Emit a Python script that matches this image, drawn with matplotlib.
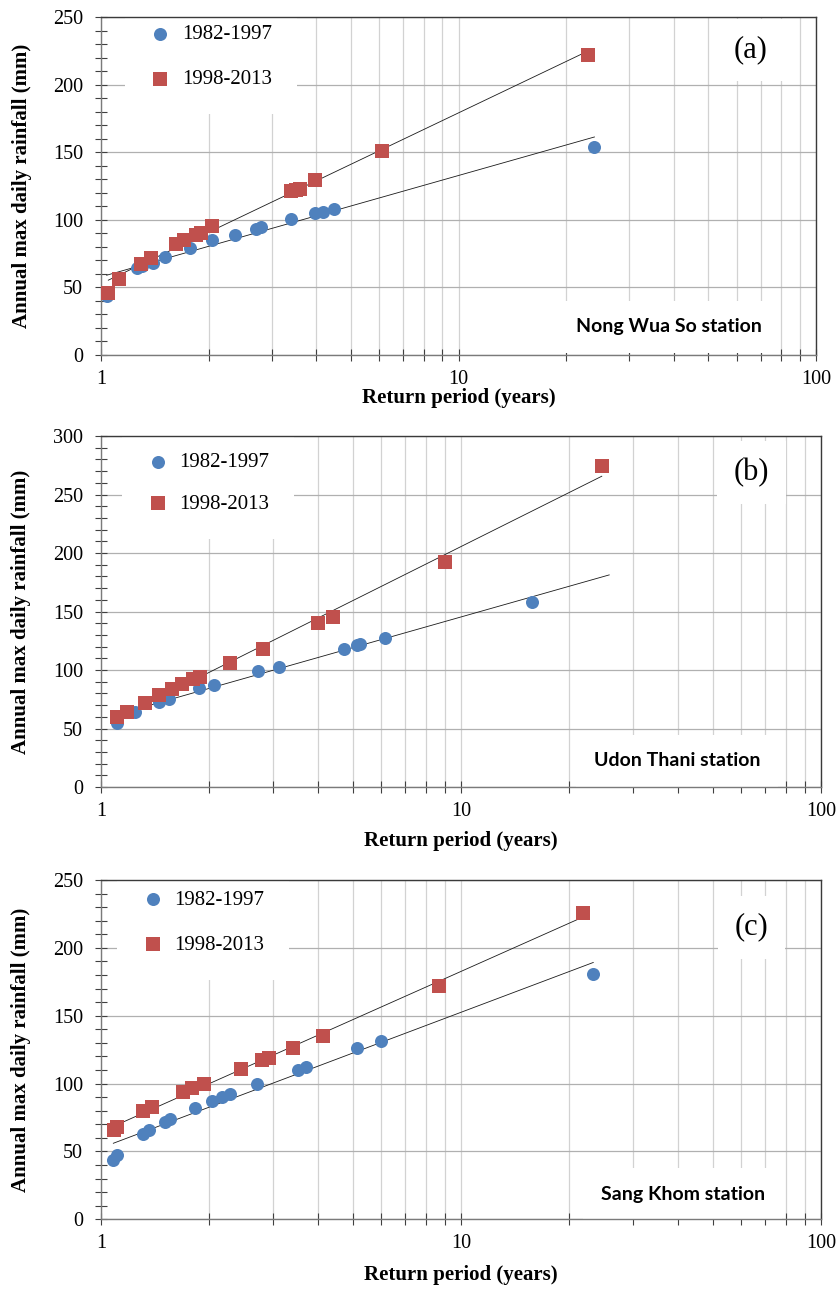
import numpy as np
import matplotlib.pyplot as plt
from matplotlib.ticker import MultipleLocator, FixedLocator, NullFormatter

# return period (years) and annual max daily rainfall (mm)
a_blue_x = [1.037, 1.26, 1.30, 1.40, 1.51, 1.77, 2.05, 2.37, 2.71, 2.81, 3.39, 3.97, 4.17, 4.49, 24.0]
a_blue_y = [44, 64.5, 65.5, 68, 72.5, 79, 85, 89, 93, 95, 100.5, 104.7, 106, 108, 154]
a_red_x = [1.048, 1.124, 1.297, 1.383, 1.622, 1.711, 1.844, 1.904, 2.05, 3.39, 3.50, 3.61, 3.96, 6.12, 23.0]
a_red_y = [45.5, 56, 67.5, 71.5, 82, 85, 88.5, 90, 95.5, 121, 122, 123, 129.5, 151, 222]

b_blue_x = [1.11, 1.243, 1.45, 1.54, 1.872, 2.065, 2.724, 3.115, 4.73, 5.13, 5.25, 6.13, 15.75]
b_blue_y = [55, 64, 72.5, 75.5, 84.5, 87.5, 99, 103, 118, 121, 122, 127, 158]
b_red_x = [1.11, 1.178, 1.325, 1.452, 1.571, 1.675, 1.805, 1.884, 2.282, 2.81, 4.01, 4.42, 9.03, 24.6]
b_red_y = [60, 64.5, 72, 79, 84, 88, 92.5, 94, 106, 118, 140, 145, 192.5, 274.5]

c_blue_x = [1.082, 1.11, 1.305, 1.362, 1.506, 1.555, 1.825, 2.03, 2.165, 2.282, 2.716, 3.52, 3.71, 5.13, 5.98, 23.3]
c_blue_y = [44, 47.5, 63, 65.5, 72, 74, 82, 87.5, 90, 92.5, 99.5, 110, 112.5, 126, 131.5, 180.5]
c_red_x = [1.089, 1.105, 1.311, 1.383, 1.693, 1.786, 1.93, 2.443, 2.804, 2.935, 3.42, 4.13, 8.71, 21.8]
c_red_y = [65.5, 68, 79.5, 82.5, 94, 96.5, 100, 111, 117.5, 119, 126, 135, 172, 225.5]

# trendline end (forward forecast) where it goes past the data
b_blue_trend_end = 25.8

labels = ['1982-1997', '1998-2013']
stations = ['Nong Wua So station', 'Udon Thani station', 'Sang Khom station']
panels = ['(a)', '(b)', '(c)']
ymax = [250, 300, 250]

BLUE = '#4F81BD'
RED = '#C0504D'
SERIF = 'Liberation Serif'

fig = plt.figure(figsize=(8.39, 12.9), dpi=100)
ax_a = fig.add_axes([0.1204, 0.7248, 0.8522, 0.2620])
ax_b = fig.add_axes([0.1204, 0.3899, 0.8582, 0.2721])
ax_c = fig.add_axes([0.1204, 0.0548, 0.8582, 0.2630])


def log_trend(ax, x, y, x_end=None):
    # excel style logarithmic trendline: y = a + b ln(x)
    b, a = np.polyfit(np.log(x), y, 1)
    x0 = min(x)
    x1 = max(x) if x_end is None else x_end
    xs = np.geomspace(x0, x1, 100)
    ax.plot(xs, a + b * np.log(xs), color='#1a1a1a', lw=0.6, zorder=2)


def draw_panel(ax, bx, by, rx, ry, top, station, tag, leg_xy, leg_space, tag_xy, st_xy,
               xlab_y, blue_end=None):
    ax.set_xscale('log')
    ax.set_xlim(1, 100)
    ax.set_ylim(0, top)

    ax.scatter(bx, by, s=88, marker='o', color=BLUE, lw=0, zorder=3, label=labels[0])
    ax.scatter(rx, ry, s=95, marker='s', color=RED, lw=0, zorder=3, label=labels[1])
    log_trend(ax, bx, by, blue_end)
    log_trend(ax, rx, ry)

    ax.yaxis.set_major_locator(MultipleLocator(50))
    ax.yaxis.set_minor_locator(MultipleLocator(10))
    ax.xaxis.set_major_locator(FixedLocator([1, 10, 100]))
    ax.xaxis.set_minor_locator(FixedLocator([2, 3, 4, 5, 6, 7, 8, 9, 20, 30, 40, 50, 60, 70, 80, 90]))
    ax.xaxis.set_minor_formatter(NullFormatter())
    ax.set_xticklabels(['1', '10', '100'])

    ax.set_axisbelow(True)
    ax.grid(which='major', axis='y', color='#b0b0b0', lw=0.9)
    ax.grid(which='both', axis='x', color='#d2d2d2', lw=0.9)

    ax.tick_params(which='both', direction='inout', length=8, width=0.8, color='#404040',
                   labelsize=14.5)
    ax.tick_params(axis='y', which='both', pad=9)
    ax.tick_params(axis='x', which='both', pad=6.5)
    for lab in ax.get_xticklabels() + ax.get_yticklabels():
        lab.set_family(SERIF)

    for side in ['left', 'bottom']:
        ax.spines[side].set_color('#7a7a7a')
        ax.spines[side].set_linewidth(1.0)
    for side in ['top', 'right']:
        ax.spines[side].set_color('#3a3a3a')
        ax.spines[side].set_linewidth(1.0)

    ax.set_ylabel('Annual max daily rainfall (mm)', family=SERIF, fontsize=15, fontweight='bold')
    ax.yaxis.label.set_va('center')
    ax.yaxis.set_label_coords(-0.111, 0.5)
    ax.set_xlabel('Return period (years)', family=SERIF, fontsize=15, fontweight='bold')
    ax.xaxis.label.set_va('center')
    ax.xaxis.set_label_coords(0.5, xlab_y)

    leg = ax.legend(loc='center', bbox_to_anchor=leg_xy, prop={'family': SERIF, 'size': 15},
                    frameon=True, fancybox=False, facecolor='white', edgecolor='none',
                    framealpha=1, borderpad=1.2, labelspacing=leg_space, handlelength=1.0,
                    handletextpad=0.55, markerscale=1.0)
    leg.set_zorder(2.2)

    ax.text(tag_xy[0], tag_xy[1], tag, transform=ax.transAxes, family=SERIF, fontsize=22,
            ha='center', va='center', zorder=2.3,
            bbox=dict(boxstyle='square,pad=0.55', fc='white', ec='none'))
    ax.text(st_xy[0], st_xy[1], station, transform=ax.transAxes, family='Lato', fontsize=14,
            fontweight='bold', ha='center', va='center', zorder=2.3,
            bbox=dict(boxstyle='square,pad=0.9', fc='white', ec='none'))


draw_panel(ax_a, a_blue_x, a_blue_y, a_red_x, a_red_y, ymax[0], stations[0], panels[0],
           (0.154, 0.882), 1.2, (0.909, 0.902), (0.794, 0.084), -0.128)
draw_panel(ax_b, b_blue_x, b_blue_y, b_red_x, b_red_y, ymax[1], stations[1], panels[1],
           (0.149, 0.865), 1.05, (0.903, 0.895), (0.800, 0.075), -0.154,
           blue_end=b_blue_trend_end)
draw_panel(ax_c, c_blue_x, c_blue_y, c_red_x, c_red_y, ymax[2], stations[2], panels[2],
           (0.142, 0.875), 1.2, (0.903, 0.861), (0.808, 0.074), -0.163)

fig.savefig('out.png', dpi=100)
